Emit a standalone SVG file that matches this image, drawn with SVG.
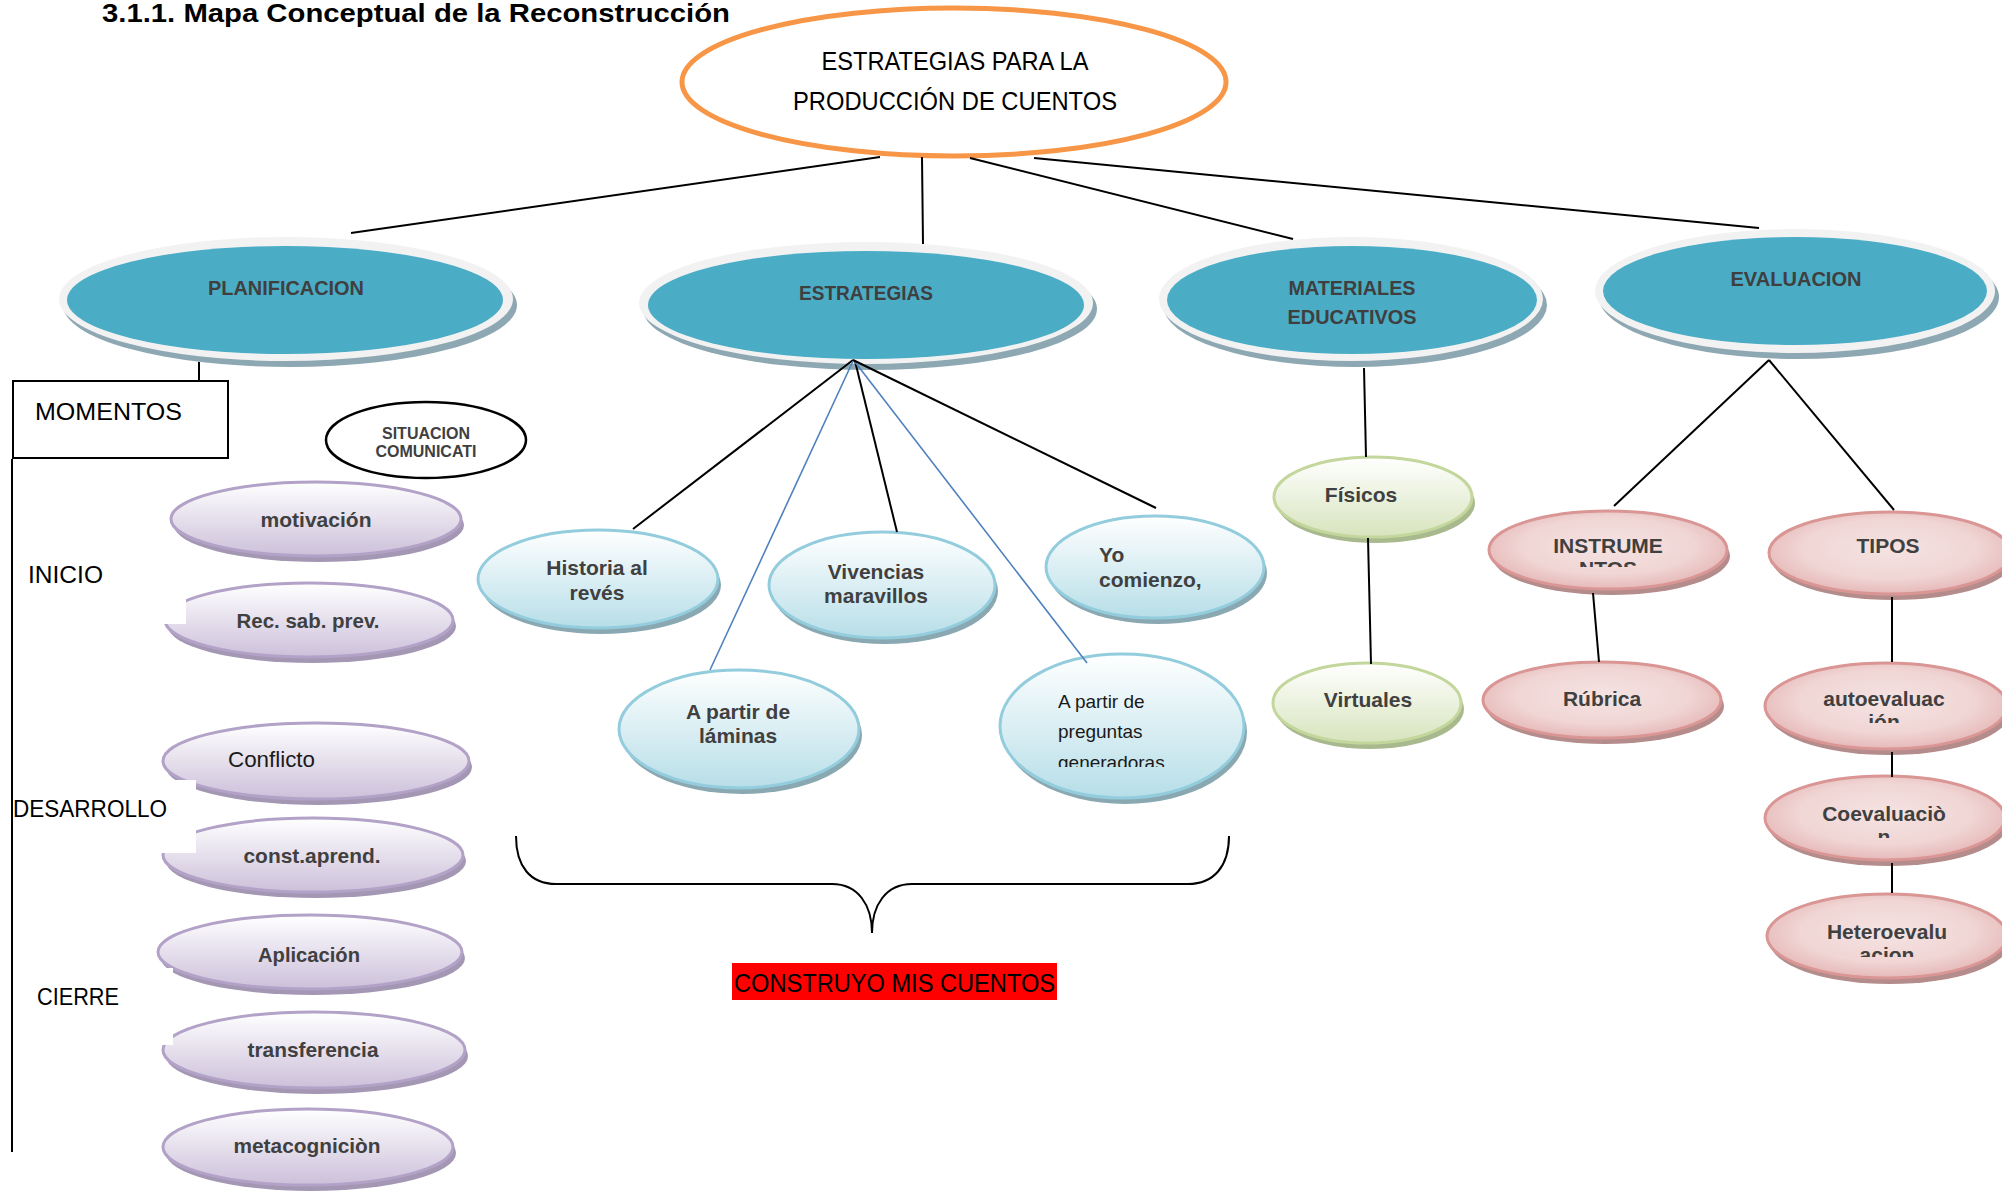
<svg xmlns="http://www.w3.org/2000/svg" width="2002" height="1193" viewBox="0 0 2002 1193">
<style>
.t{font-family:"Liberation Sans",Arial,sans-serif}
.b{font-weight:bold}
.dk{fill:#404040}
.conn{stroke:#000;stroke-width:2;fill:none}
.blue{stroke:#4F81BD;stroke-width:1.6;fill:none}
.shB{fill:#8DA8B2}
.outB{fill:#F2F2F2}
.inB{fill:#4BACC6}
.shP{fill:#A497B4}
.pur{fill:url(#gP);stroke:#B3A2C7;stroke-width:3}
.shL{fill:#8AA8B2}
.lb{fill:url(#gL);stroke:#93CDDD;stroke-width:3}
.shG{fill:#A9B98E}
.gr{fill:url(#gG);stroke:#C3D69B;stroke-width:3}
.shR{fill:#B38C8B}
.pk{fill:url(#gR);stroke:#D99694;stroke-width:3}
</style>
<defs>
<linearGradient id="gP" x1="0" y1="0" x2="0" y2="1"><stop offset="0" stop-color="#FFFFFF"/><stop offset="1" stop-color="#CCC0DA"/></linearGradient>
<linearGradient id="gL" x1="0" y1="0" x2="0" y2="1"><stop offset="0" stop-color="#FFFFFF"/><stop offset="1" stop-color="#B7DEE8"/></linearGradient>
<linearGradient id="gG" x1="0" y1="0" x2="0" y2="1"><stop offset="0" stop-color="#FFFFFF"/><stop offset="1" stop-color="#D7E4BD"/></linearGradient>
<radialGradient id="gR" cx="0.5" cy="0.45" r="0.6"><stop offset="0" stop-color="#F5E3E2"/><stop offset="0.6" stop-color="#F0D6D5"/><stop offset="1" stop-color="#E3B2B1"/></radialGradient>
<clipPath id="cInst"><rect x="1480" y="520" width="260" height="47"/></clipPath>
<clipPath id="cAuto"><rect x="1760" y="670" width="250" height="53"/></clipPath>
<clipPath id="cCoev"><rect x="1760" y="790" width="250" height="48"/></clipPath>
<clipPath id="cHet"><rect x="1760" y="905" width="250" height="52"/></clipPath>
<clipPath id="cPreg"><rect x="1000" y="660" width="250" height="107"/></clipPath>
</defs>

<text class="t b" x="102" y="22" font-size="26" textLength="628" lengthAdjust="spacingAndGlyphs">3.1.1. Mapa Conceptual de la Reconstrucción</text>

<g id="root">
<ellipse cx="954" cy="82" rx="272" ry="74" fill="#FFFFFF" stroke="#F79646" stroke-width="5"/>
<text class="t" x="955" y="70" font-size="25" text-anchor="middle" textLength="267" lengthAdjust="spacingAndGlyphs">ESTRATEGIAS PARA LA</text>
<text class="t" x="955" y="110" font-size="25" text-anchor="middle" textLength="324" lengthAdjust="spacingAndGlyphs">PRODUCCIÓN DE CUENTOS</text>
</g>

<g id="planificacion">
<ellipse class="shB" cx="290" cy="305" rx="227" ry="62"/>
<ellipse class="outB" cx="286" cy="299" rx="227" ry="62"/>
<ellipse class="inB" cx="285" cy="300" rx="218" ry="54"/>
<text class="t b" x="286" y="295" font-size="20" fill="#3F3F3F" text-anchor="middle" textLength="156" lengthAdjust="spacingAndGlyphs">PLANIFICACION</text>
</g>
<g id="estrategias">
<ellipse class="shB" cx="870" cy="309" rx="227" ry="61"/>
<ellipse class="outB" cx="866" cy="303" rx="227" ry="61"/>
<ellipse class="inB" cx="866" cy="305" rx="218" ry="54"/>
<text class="t b" x="866" y="300" font-size="20" fill="#3F3F3F" text-anchor="middle" textLength="134" lengthAdjust="spacingAndGlyphs">ESTRATEGIAS</text>
</g>
<g id="materiales">
<ellipse class="shB" cx="1355" cy="305" rx="192" ry="62"/>
<ellipse class="outB" cx="1351" cy="299" rx="192" ry="62"/>
<ellipse class="inB" cx="1352" cy="300" rx="185" ry="54"/>
<text class="t b" x="1352" y="295" font-size="20" fill="#3F3F3F" text-anchor="middle" textLength="127" lengthAdjust="spacingAndGlyphs">MATERIALES</text>
<text class="t b" x="1352" y="324" font-size="20" fill="#3F3F3F" text-anchor="middle" textLength="129" lengthAdjust="spacingAndGlyphs">EDUCATIVOS</text>
</g>
<g id="evaluacion">
<ellipse class="shB" cx="1799" cy="297" rx="200" ry="62"/>
<ellipse class="outB" cx="1795" cy="291" rx="200" ry="62"/>
<ellipse class="inB" cx="1795" cy="291" rx="192" ry="54"/>
<text class="t b" x="1796" y="286" font-size="20" fill="#3F3F3F" text-anchor="middle" textLength="131" lengthAdjust="spacingAndGlyphs">EVALUACION</text>
</g>

<g id="momentos">
<rect x="13" y="381" width="215" height="77" fill="#FFFFFF" stroke="#000" stroke-width="2"/>
<text class="t" x="35" y="420" font-size="24" textLength="147" lengthAdjust="spacingAndGlyphs">MOMENTOS</text>
</g>
<g id="situacion">
<ellipse cx="426" cy="440" rx="100" ry="38" fill="#FFFFFF" stroke="#000" stroke-width="2.5"/>
<text class="t b dk" x="426" y="439" font-size="16" text-anchor="middle">SITUACION</text>
<text class="t b dk" x="426" y="457" font-size="16" text-anchor="middle">COMUNICATI</text>
</g>

<g id="motivacion">
<ellipse class="shP" cx="319" cy="525" rx="145" ry="37"/>
<ellipse class="pur" cx="316" cy="519" rx="145" ry="37"/>
<text class="t b dk" x="316" y="527" font-size="21" text-anchor="middle" textLength="111" lengthAdjust="spacingAndGlyphs">motivación</text>
</g>
<g id="recsab">
<ellipse class="shP" cx="312" cy="626" rx="144" ry="37"/>
<ellipse class="pur" cx="309" cy="620" rx="144" ry="37"/>
<text class="t b dk" x="308" y="628" font-size="21" text-anchor="middle" textLength="143" lengthAdjust="spacingAndGlyphs">Rec. sab. prev.</text>
</g>
<g id="conflicto">
<ellipse class="shP" cx="319" cy="767" rx="153" ry="38"/>
<ellipse class="pur" cx="316" cy="761" rx="153" ry="38"/>
<text class="t" x="228" y="767" font-size="22" fill="#1A1A1A" textLength="87" lengthAdjust="spacingAndGlyphs">Conflicto</text>
</g>
<g id="constaprend">
<ellipse class="shP" cx="316" cy="861" rx="150" ry="37"/>
<ellipse class="pur" cx="313" cy="855" rx="150" ry="37"/>
<text class="t b dk" x="312" y="863" font-size="21" text-anchor="middle" textLength="137" lengthAdjust="spacingAndGlyphs">const.aprend.</text>
</g>
<g id="aplicacion">
<ellipse class="shP" cx="313" cy="958" rx="152" ry="37"/>
<ellipse class="pur" cx="310" cy="952" rx="152" ry="37"/>
<text class="t b dk" x="309" y="962" font-size="21" text-anchor="middle" textLength="102" lengthAdjust="spacingAndGlyphs">Aplicación</text>
</g>
<g id="transferencia">
<ellipse class="shP" cx="317" cy="1056" rx="151" ry="38"/>
<ellipse class="pur" cx="314" cy="1050" rx="151" ry="38"/>
<text class="t b dk" x="313" y="1057" font-size="21" text-anchor="middle" textLength="131" lengthAdjust="spacingAndGlyphs">transferencia</text>
</g>
<g id="metacognicion">
<ellipse class="shP" cx="311" cy="1153" rx="145" ry="38"/>
<ellipse class="pur" cx="308" cy="1147" rx="145" ry="38"/>
<text class="t b dk" x="307" y="1153" font-size="21" text-anchor="middle" textLength="147" lengthAdjust="spacingAndGlyphs">metacogniciòn</text>
</g>

<g id="labels">
<rect x="14" y="560" width="172" height="64" fill="#FFFFFF"/>
<rect x="14" y="780" width="182" height="73" fill="#FFFFFF"/>
<rect x="14" y="968" width="159" height="77" fill="#FFFFFF"/>
<text class="t" x="28" y="583" font-size="24" textLength="75" lengthAdjust="spacingAndGlyphs">INICIO</text>
<text class="t" x="13" y="817" font-size="24" textLength="154" lengthAdjust="spacingAndGlyphs">DESARROLLO</text>
<text class="t" x="37" y="1005" font-size="24" textLength="82" lengthAdjust="spacingAndGlyphs">CIERRE</text>
</g>

<g id="historia">
<ellipse class="shL" cx="601" cy="585" rx="120" ry="49"/>
<ellipse class="lb" cx="598" cy="579" rx="120" ry="49"/>
<text class="t b dk" x="597" y="575" font-size="21" text-anchor="middle">Historia al</text>
<text class="t b dk" x="597" y="600" font-size="21" text-anchor="middle">revés</text>
</g>
<g id="vivencias">
<ellipse class="shL" cx="885" cy="591" rx="113" ry="53"/>
<ellipse class="lb" cx="882" cy="585" rx="113" ry="53"/>
<text class="t b dk" x="876" y="579" font-size="21" text-anchor="middle">Vivencias</text>
<text class="t b dk" x="876" y="603" font-size="21" text-anchor="middle">maravillos</text>
</g>
<g id="yocomienzo">
<ellipse class="shL" cx="1158" cy="573" rx="109" ry="51"/>
<ellipse class="lb" cx="1155" cy="567" rx="109" ry="51"/>
<text class="t b dk" x="1099" y="562" font-size="21">Yo</text>
<text class="t b dk" x="1099" y="587" font-size="21">comienzo,</text>
</g>
<g id="laminas">
<ellipse class="shL" cx="742" cy="735" rx="120" ry="59"/>
<ellipse class="lb" cx="739" cy="729" rx="120" ry="59"/>
<text class="t b dk" x="738" y="719" font-size="21" text-anchor="middle">A partir de</text>
<text class="t b dk" x="738" y="743" font-size="21" text-anchor="middle">láminas</text>
</g>
<g id="preguntas">
<ellipse class="shL" cx="1125" cy="732" rx="122" ry="72"/>
<ellipse class="lb" cx="1122" cy="726" rx="122" ry="72"/>
<g clip-path="url(#cPreg)">
<text class="t" x="1058" y="708" font-size="19" fill="#1A1A1A">A partir de</text>
<text class="t" x="1058" y="738" font-size="19" fill="#1A1A1A">preguntas</text>
<text class="t" x="1058" y="769" font-size="19" fill="#1A1A1A">generadoras</text>
</g>
</g>

<g id="fisicos">
<ellipse class="shG" cx="1376" cy="503" rx="99" ry="40"/>
<ellipse class="gr" cx="1373" cy="497" rx="99" ry="40"/>
<text class="t b dk" x="1361" y="502" font-size="21" text-anchor="middle">Físicos</text>
</g>
<g id="virtuales">
<ellipse class="shG" cx="1370" cy="709" rx="94" ry="40"/>
<ellipse class="gr" cx="1367" cy="703" rx="94" ry="40"/>
<text class="t b dk" x="1368" y="707" font-size="21" text-anchor="middle">Virtuales</text>
</g>

<g id="instrumentos">
<ellipse class="shR" cx="1611" cy="556" rx="119" ry="39"/>
<ellipse class="pk" cx="1608" cy="550" rx="119" ry="39"/>
<text class="t b dk" x="1608" y="553" font-size="21" text-anchor="middle">INSTRUME</text>
<text class="t b dk" x="1608" y="576" font-size="21" text-anchor="middle" clip-path="url(#cInst)">NTOS</text>
</g>
<g id="tipos">
<ellipse class="shR" cx="1893" cy="559" rx="121" ry="41"/>
<ellipse class="pk" cx="1890" cy="553" rx="121" ry="41"/>
<text class="t b dk" x="1888" y="553" font-size="21" text-anchor="middle">TIPOS</text>
</g>
<g id="rubrica">
<ellipse class="shR" cx="1605" cy="706" rx="119" ry="38"/>
<ellipse class="pk" cx="1602" cy="700" rx="119" ry="38"/>
<text class="t b dk" x="1602" y="706" font-size="21" text-anchor="middle">Rúbrica</text>
</g>
<g id="autoevaluacion">
<ellipse class="shR" cx="1889" cy="712" rx="121" ry="43"/>
<ellipse class="pk" cx="1886" cy="706" rx="121" ry="43"/>
<text class="t b dk" x="1884" y="706" font-size="21" text-anchor="middle">autoevaluac</text>
<text class="t b dk" x="1884" y="729" font-size="21" text-anchor="middle" clip-path="url(#cAuto)">ión</text>
</g>
<g id="coevaluacion">
<ellipse class="shR" cx="1888" cy="824" rx="120" ry="42"/>
<ellipse class="pk" cx="1885" cy="818" rx="120" ry="42"/>
<text class="t b dk" x="1884" y="821" font-size="21" text-anchor="middle">Coevaluaciò</text>
<text class="t b dk" x="1884" y="844" font-size="21" text-anchor="middle" clip-path="url(#cCoev)">n</text>
</g>
<g id="heteroevaluacion">
<ellipse class="shR" cx="1890" cy="942" rx="120" ry="42"/>
<ellipse class="pk" cx="1887" cy="936" rx="120" ry="42"/>
<text class="t b dk" x="1887" y="939" font-size="21" text-anchor="middle">Heteroevalu</text>
<text class="t b dk" x="1887" y="962" font-size="21" text-anchor="middle" clip-path="url(#cHet)">acion</text>
</g>

<g id="connectors">
<line class="conn" x1="880" y1="157" x2="351" y2="233" stroke-width="2.5"/>
<line class="conn" x1="922" y1="157" x2="923" y2="244" stroke-width="1.5"/>
<line class="conn" x1="970" y1="158" x2="1293" y2="239"/>
<line class="conn" x1="1034" y1="158" x2="1759" y2="228"/>
<line class="conn" x1="199" y1="362" x2="199" y2="381" stroke-width="1.5"/>
<line class="conn" x1="12" y1="459" x2="12" y2="1152" stroke-width="2.5"/>
<line class="conn" x1="853" y1="360" x2="633" y2="529"/>
<line class="blue" x1="853" y1="361" x2="710" y2="670"/>
<line class="conn" x1="855" y1="361" x2="897" y2="532"/>
<line class="blue" x1="855" y1="362" x2="1087" y2="663"/>
<line class="conn" x1="853" y1="360" x2="1156" y2="508"/>
<line class="conn" x1="1364" y1="368" x2="1366" y2="457" stroke-width="1.5"/>
<line class="conn" x1="1368" y1="538" x2="1371" y2="664" stroke-width="1.5"/>
<line class="conn" x1="1769" y1="360" x2="1614" y2="506"/>
<line class="conn" x1="1769" y1="360" x2="1894" y2="510"/>
<line class="conn" x1="1593" y1="593" x2="1599" y2="662"/>
<line class="conn" x1="1892" y1="597" x2="1892" y2="662"/>
<line class="conn" x1="1892" y1="752" x2="1892" y2="777"/>
<line class="conn" x1="1892" y1="863" x2="1892" y2="893"/>
<path class="conn" d="M516,836 C516,866 530,884 556,884 L832,884 C858,884 872,905 872,933 C872,905 886,884 912,884 L1188,884 C1214,884 1229,866 1229,836"/>
</g>

<g id="construyo">
<rect x="732" y="963" width="325" height="37" fill="#FF0000"/>
<text class="t" x="734" y="992" font-size="26" fill="#000" textLength="321" lengthAdjust="spacingAndGlyphs">CONSTRUYO MIS CUENTOS</text>
</g>
</svg>
